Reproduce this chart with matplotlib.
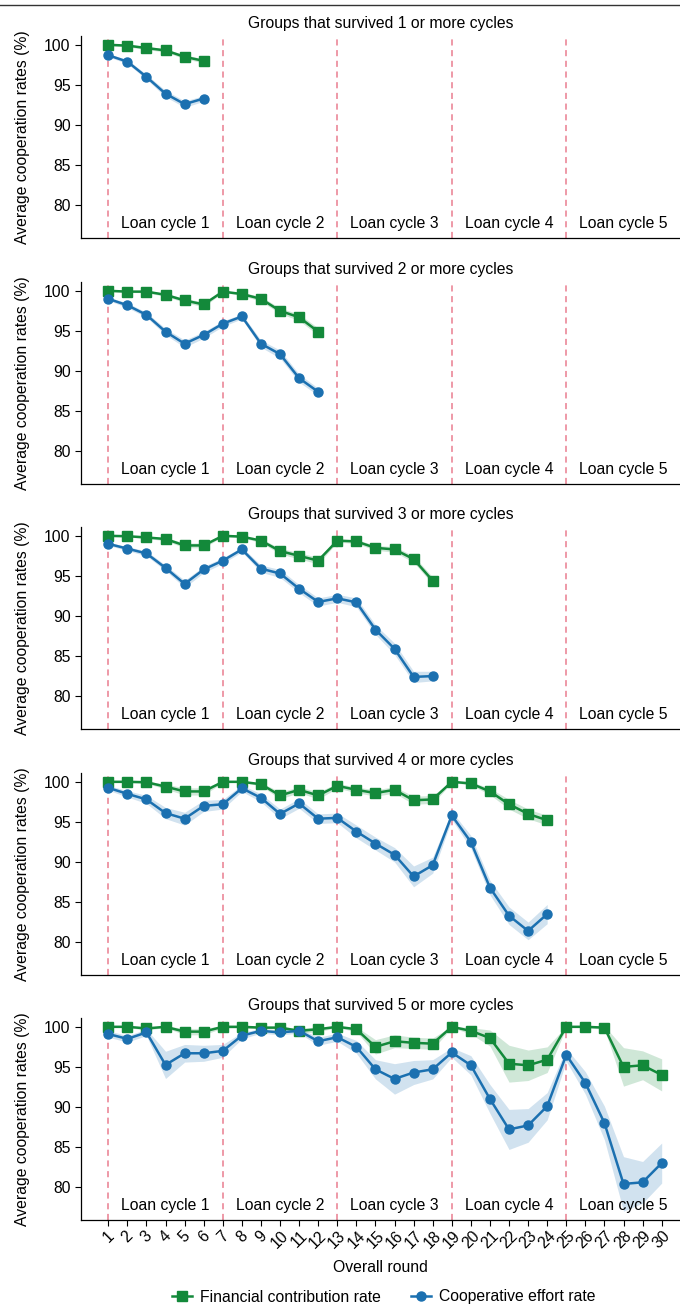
import numpy as np
import matplotlib.pyplot as plt
from matplotlib.lines import Line2D

plt.rcParams['font.family'] = ['Liberation Sans', 'DejaVu Sans']

# values (percent), one list per panel
fin_1 = [100.0, 99.9, 99.6, 99.3, 98.5, 98.0]
eff_1 = [98.7, 97.9, 96.0, 93.9, 92.6, 93.3]
fin_err_1 = [0.1, 0.15, 0.2, 0.2, 0.25, 0.25]
eff_err_1 = [0.2, 0.25, 0.3, 0.4, 0.4, 0.35]

fin_2 = [100.0, 99.9, 99.9, 99.5, 98.8, 98.3, 99.9, 99.6, 99.0, 97.5, 96.7, 94.9]
eff_2 = [99.0, 98.2, 97.0, 94.9, 93.4, 94.5, 95.9, 96.8, 93.4, 92.1, 89.1, 87.4]
fin_err_2 = [0.1, 0.1, 0.15, 0.2, 0.25, 0.3, 0.1, 0.2, 0.3, 0.35, 0.4, 0.45]
eff_err_2 = [0.2, 0.3, 0.3, 0.4, 0.45, 0.4, 0.35, 0.3, 0.45, 0.5, 0.5, 0.45]

fin_3 = [100.0, 99.95, 99.8, 99.6, 98.8, 98.8, 100.0, 99.9, 99.4, 98.1, 97.5, 96.9,
         99.4, 99.3, 98.5, 98.3, 97.1, 94.4]
eff_3 = [99.0, 98.4, 97.8, 96.0, 94.0, 95.8, 96.9, 98.3, 95.9, 95.3, 93.4, 91.75,
         92.2, 91.7, 88.3, 85.9, 82.4, 82.5]
fin_err_3 = [0.1, 0.1, 0.15, 0.2, 0.3, 0.3, 0.1, 0.15, 0.25, 0.35, 0.4, 0.4,
             0.2, 0.25, 0.3, 0.35, 0.4, 0.45]
eff_err_3 = [0.2, 0.25, 0.3, 0.35, 0.45, 0.4, 0.35, 0.3, 0.45, 0.5, 0.5, 0.5,
             0.5, 0.55, 0.6, 0.7, 0.7, 0.6]

fin_4 = [100.0, 100.0, 99.95, 99.4, 98.8, 98.8, 100.0, 100.0, 99.7, 98.3, 99.0, 98.3,
         99.5, 99.0, 98.6, 99.0, 97.7, 97.8, 100.0, 99.8, 98.8, 97.2, 96.0, 95.2]
eff_4 = [99.25, 98.5, 97.8, 96.1, 95.4, 97.0, 97.2, 99.2, 98.0, 96.0, 97.3, 95.4,
         95.5, 93.8, 92.3, 90.9, 88.2, 89.6, 95.8, 92.5, 86.8, 83.3, 81.4, 83.5]
fin_err_4 = [0.1, 0.1, 0.15, 0.3, 0.45, 0.45, 0.1, 0.1, 0.2, 0.45, 0.35, 0.45,
             0.3, 0.35, 0.4, 0.4, 0.5, 0.5, 0.1, 0.2, 0.4, 0.6, 0.6, 0.6]
eff_err_4 = [0.3, 0.4, 0.5, 0.7, 0.8, 0.7, 0.6, 0.4, 0.5, 0.6, 0.6, 0.6,
             0.6, 0.8, 0.8, 0.9, 1.3, 1.0, 0.5, 0.8, 0.9, 1.1, 1.1, 1.2]

fin_5 = [100.0, 100.0, 99.8, 100.0, 99.4, 99.4, 100.0, 100.0, 99.9, 99.9, 99.5, 99.7,
         100.0, 99.7, 97.5, 98.2, 98.0, 97.9, 100.0, 99.5, 98.6, 95.4, 95.2, 95.9,
         100.0, 100.0, 99.9, 95.0, 95.2, 94.0]
eff_5 = [99.1, 98.5, 99.3, 95.25, 96.7, 96.7, 97.0, 98.9, 99.5, 99.3, 99.5, 98.2,
         98.7, 97.5, 94.7, 93.5, 94.3, 94.7, 96.8, 95.2, 91.0, 87.2, 87.7, 90.1,
         96.5, 93.0, 88.0, 80.4, 80.6, 83.0]
fin_err_5 = [0.1, 0.1, 0.2, 0.1, 0.4, 0.4, 0.15, 0.15, 0.15, 0.15, 0.3, 0.3,
             0.1, 0.3, 0.9, 0.8, 0.7, 0.7, 0.1, 0.4, 1.0, 2.3, 1.9, 1.6,
             0.1, 0.1, 0.2, 2.4, 1.8, 2.0]
eff_err_5 = [0.4, 0.4, 0.4, 1.7, 1.1, 1.0, 0.8, 0.4, 0.3, 0.3, 0.3, 0.5,
             0.5, 0.8, 1.2, 1.9, 1.5, 1.2, 0.6, 1.2, 1.8, 2.5, 2.1, 1.7,
             0.8, 1.4, 2.1, 3.4, 2.6, 2.5]

panels = [
    (fin_1, eff_1, fin_err_1, eff_err_1),
    (fin_2, eff_2, fin_err_2, eff_err_2),
    (fin_3, eff_3, fin_err_3, eff_err_3),
    (fin_4, eff_4, fin_err_4, eff_err_4),
    (fin_5, eff_5, fin_err_5, eff_err_5),
]
cycle_starts = [1, 7, 13, 19, 25]
cycle_labels = ['Loan cycle 1', 'Loan cycle 2', 'Loan cycle 3', 'Loan cycle 4', 'Loan cycle 5']
rounds = np.arange(1, 31)

GREEN = '#13893a'
BLUE = '#1b70b0'
RED = '#ea7d90'
FS = 11.3

W, H = 680, 1307
fig = plt.figure(figsize=(W / 100, H / 100), dpi=100)

# top rule across the figure
fig.add_artist(Line2D([0, 1], [1 - 5 / H, 1 - 5 / H], color='#333333', lw=1.0,
                      transform=fig.transFigure))

tops = [36, 282, 527, 773, 1018]
ph = 202
left = 81 / W
aw = W - 81

for i, (fin, eff, fe, ee) in enumerate(panels):
    ax = fig.add_axes([left, 1 - (tops[i] + ph) / H, 1 - left, ph / H])
    n = len(fin)
    x = rounds[:n]
    fin = np.array(fin)
    eff = np.array(eff)
    fe = np.array(fe)
    ee = np.array(ee)

    for s in cycle_starts:
        ax.axvline(s, color=RED, lw=1.1, ls=(0, (4, 3)), zorder=1)

    ax.fill_between(x, fin - fe, np.minimum(fin + fe, 100.3), color=GREEN, alpha=0.2, lw=0, zorder=2)
    ax.fill_between(x, eff - ee, eff + ee, color=BLUE, alpha=0.2, lw=0, zorder=2)
    ax.plot(x, fin, color=GREEN, marker='s', ms=6.5, lw=1.8, zorder=3,
            label='Financial contribution rate')
    ax.plot(x, eff, color=BLUE, marker='o', ms=6.5, lw=1.8, zorder=3,
            label='Cooperative effort rate')

    for s, lab in zip(cycle_starts, cycle_labels):
        ax.text(s + 3, 77.75, lab, ha='center', va='center', fontsize=FS)

    ax.set_xlim(-0.43, 30.96)
    ax.set_ylim(75.9, 101.1)
    ax.set_yticks([80, 85, 90, 95, 100])
    ax.tick_params(axis='y', labelsize=FS, length=4, width=0.8)
    ax.set_ylabel('Average cooperation rates (%)', fontsize=FS)
    ax.yaxis.set_label_coords((30 - 81) / aw, 0.5)
    for sp in ['top', 'right']:
        ax.spines[sp].set_visible(False)
    ax.spines['left'].set_linewidth(0.9)
    ax.spines['bottom'].set_linewidth(0.9)

    ax.set_title(f'Groups that survived {i + 1} or more cycles', fontsize=FS, pad=6)

    if i < 4:
        ax.set_xticks([])
    else:
        ax.set_xticks(rounds)
        ax.set_xticklabels([str(r) for r in rounds], rotation=45, fontsize=FS)
        ax.tick_params(axis='x', length=4, width=0.8, pad=2)
        ax.set_xlabel('Overall round', fontsize=FS, labelpad=6)
        ax.legend(loc='center', bbox_to_anchor=(0.505, -77 / ph), ncol=2, frameon=False,
                  fontsize=FS, handlelength=1.3, columnspacing=1.9, handletextpad=0.5,
                  borderpad=0.2)

fig.savefig('out.png', dpi=100)
